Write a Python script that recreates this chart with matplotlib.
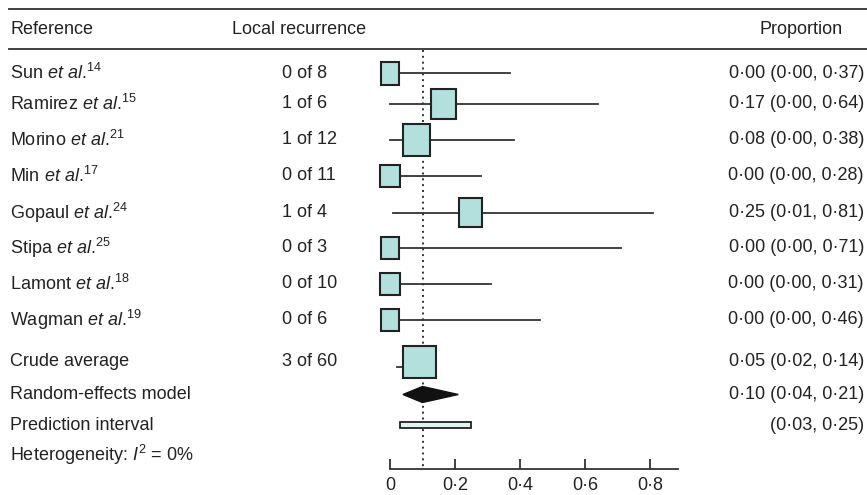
import matplotlib
matplotlib.use("Agg")
import matplotlib.pyplot as plt
from matplotlib.patches import Rectangle, Polygon

plt.rcParams['font.family'] = ['Liberation Sans', 'DejaVu Sans']
plt.rcParams['mathtext.fontset'] = 'custom'
plt.rcParams['mathtext.rm'] = 'Liberation Sans'
plt.rcParams['mathtext.it'] = 'Liberation Sans:italic'
plt.rcParams['mathtext.default'] = 'rm'

# ---------------- data ----------------
authors = ["Sun", "Ramirez", "Morino", "Min", "Gopaul", "Stipa", "Lamont", "Wagman"]
refs = [14, 15, 21, 17, 24, 25, 18, 19]
events = [0, 1, 1, 0, 1, 0, 0, 0]
totals = [8, 6, 12, 11, 4, 3, 10, 6]
est = [0.00, 0.17, 0.08, 0.00, 0.25, 0.00, 0.00, 0.00]
lo = [0.00, 0.00, 0.00, 0.00, 0.01, 0.00, 0.00, 0.00]
hi = [0.37, 0.64, 0.38, 0.28, 0.81, 0.71, 0.31, 0.46]
box_x = [0.00, 0.166, 0.082, 0.00, 0.248, 0.00, 0.00, 0.00]     # box centres as drawn
box_w = [0.058, 0.077, 0.081, 0.060, 0.071, 0.055, 0.060, 0.055]  # box widths (x units)
box_h = [23, 30, 32, 22, 29, 22, 22, 22]                          # box heights (px)

crude_events, crude_total = 3, 60
crude_est, crude_lo, crude_hi = 0.05, 0.02, 0.14
crude_box_x, crude_box_w, crude_box_h = 0.091, 0.1015, 32

re_est, re_lo, re_hi = 0.10, 0.04, 0.21
pi_lo, pi_hi = 0.03, 0.25
i2 = 0

xticks = [0, 0.2, 0.4, 0.6, 0.8]
xtick_labels = ["0", "0·2", "0·4", "0·6", "0·8"]

# ---------------- layout ----------------
W, H = 867, 495
row_y = [73, 104, 139.5, 175.5, 212.5, 247.5, 284, 320]
crude_y, re_y, pi_y, het_y = 362, 394.5, 425, 455
axis_y = 469
x0_px, px_per_unit = 390, 325

def fmt(v):
    return f"{v:.2f}".replace(".", "·")

fig = plt.figure(figsize=(W / 100, H / 100), dpi=100)
ax = fig.add_axes([0, 0, 1, 1])
ax.set_xlim(-x0_px / px_per_unit, (W - x0_px) / px_per_unit)
ax.set_ylim(H, 0)
for s in ["left", "right", "top"]:
    ax.spines[s].set_visible(False)
ax.spines["bottom"].set_position(("data", axis_y))
ax.spines["bottom"].set_bounds(0, 0.886)
ax.spines["bottom"].set_color("#333333")
ax.spines["bottom"].set_linewidth(1.3)
ax.set_yticks([])
ax.set_xticks(xticks)
ax.set_xticklabels(xtick_labels)
ax.tick_params(axis="x", direction="in", length=7.5, width=1.3, color="#333333",
               labelsize=13, pad=6, labelcolor="#222222")

tr = ax.get_yaxis_transform()
FS = 13
TC = "#222222"

# rules
for yy in [9, 49]:
    ax.plot([9 / W, 1], [yy, yy], transform=tr, color="#333333", lw=1.3, clip_on=False)

# header
ax.text(10 / W, 30, "Reference", transform=tr, fontsize=FS, color=TC, va="center", ha="left")
ax.text(232 / W, 30, "Local recurrence", transform=tr, fontsize=FS, color=TC, va="center", ha="left")
ax.text(843 / W, 30, "Proportion", transform=tr, fontsize=FS, color=TC, va="center", ha="right")

# reference dotted line
ax.plot([re_est, re_est], [50, axis_y], color="#333333", lw=1.4, linestyle=(0, (1, 2)), zorder=1)

box_fc = "#b3dfdc"
edge = "#222222"

for i, a in enumerate(authors):
    y = row_y[i]
    ax.text(10 / W, y, f"{a} $\\mathit{{et\\ al}}$.$^{{{refs[i]}}}$", transform=tr,
            fontsize=FS, color=TC, va="center", ha="left")
    ax.text(282 / W, y, f"{events[i]} of {totals[i]}", transform=tr,
            fontsize=FS, color=TC, va="center", ha="left")
    ax.text(864 / W, y, f"{fmt(est[i])} ({fmt(lo[i])}, {fmt(hi[i])})", transform=tr,
            fontsize=FS, color=TC, va="center", ha="right")
    ax.plot([lo[i], hi[i]], [y, y], color="#333333", lw=1.3, zorder=2)
    ax.add_patch(Rectangle((box_x[i] - box_w[i] / 2, y - box_h[i] / 2), box_w[i], box_h[i],
                           facecolor=box_fc, edgecolor=edge, lw=1.5, zorder=3))

# crude average
ax.text(10 / W, crude_y, "Crude average", transform=tr, fontsize=FS, color=TC, va="center")
ax.text(282 / W, crude_y, f"{crude_events} of {crude_total}", transform=tr, fontsize=FS, color=TC, va="center")
ax.text(864 / W, crude_y, f"{fmt(crude_est)} ({fmt(crude_lo)}, {fmt(crude_hi)})", transform=tr,
        fontsize=FS, color=TC, va="center", ha="right")
ax.plot([crude_lo, crude_hi], [crude_y + 5, crude_y + 5], color="#333333", lw=1.3, zorder=2)
ax.add_patch(Rectangle((crude_box_x - crude_box_w / 2, crude_y - crude_box_h / 2), crude_box_w, crude_box_h,
                       facecolor=box_fc, edgecolor=edge, lw=1.5, zorder=3))

# random effects
ax.text(10 / W, re_y, "Random-effects model", transform=tr, fontsize=FS, color=TC, va="center")
ax.text(864 / W, re_y, f"{fmt(re_est)} ({fmt(re_lo)}, {fmt(re_hi)})", transform=tr,
        fontsize=FS, color=TC, va="center", ha="right")
ax.add_patch(Polygon([(re_lo, re_y), (re_est, re_y - 8), (re_hi, re_y), (re_est, re_y + 8)],
                     closed=True, facecolor="#111111", edgecolor="#111111", lw=1, zorder=3))

# prediction interval
ax.text(10 / W, pi_y, "Prediction interval", transform=tr, fontsize=FS, color=TC, va="center")
ax.text(864 / W, pi_y, f"({fmt(pi_lo)}, {fmt(pi_hi)})", transform=tr,
        fontsize=FS, color=TC, va="center", ha="right")
ax.add_patch(Rectangle((pi_lo, pi_y - 3), pi_hi - pi_lo, 6, facecolor="#e2f3f2",
                       edgecolor=edge, lw=1.3, zorder=3))

# heterogeneity
ax.text(10 / W, het_y, f"Heterogeneity: $\\mathit{{I}}^2$ = {i2}$\\mathit{{\\%}}$", transform=tr,
        fontsize=FS, color=TC, va="center")

fig.savefig("out.png", dpi=100, facecolor="white")
